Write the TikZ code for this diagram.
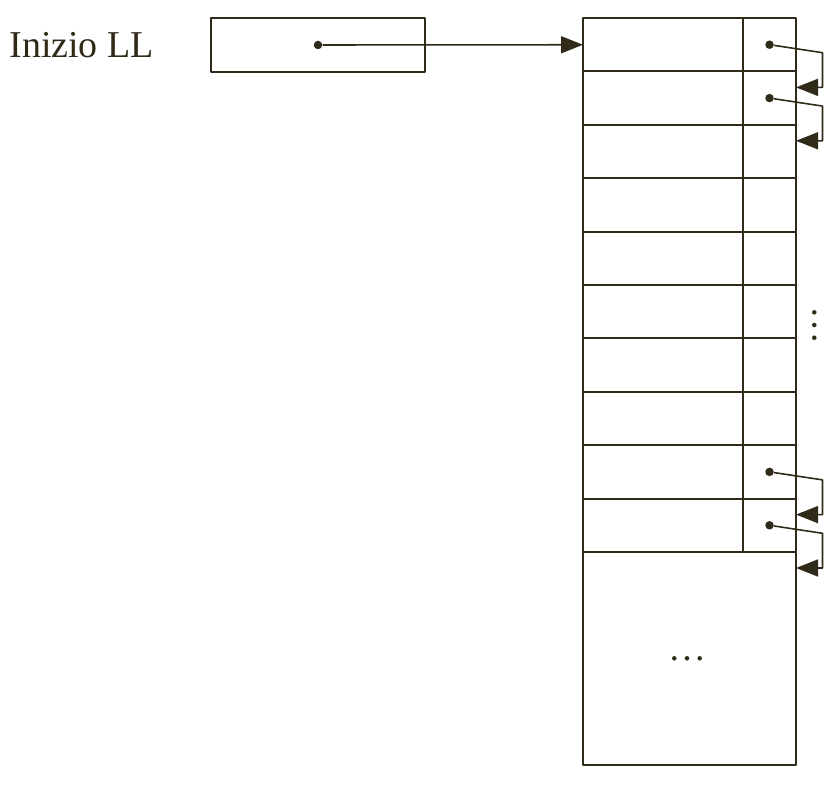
\documentclass[tikz,border=0pt]{standalone}
\usepackage{fontspec}
\setmainfont{Liberation Serif}
\usetikzlibrary{arrows.meta,positioning,calc}
\definecolor{ink}{RGB}{48,42,24}

\begin{document}
\begin{tikzpicture}[x=0.2mm, y=-0.2mm, line join=round,
      every node/.style={font=\fontsize{21.6}{26}\selectfont, text=ink},
      box/.style={draw=ink, line width=1.2pt, inner sep=0pt, outer sep=0pt},
      datacell/.style={box, minimum width=32mm, minimum height=10.68mm},
      ptrcell/.style={box, minimum width=10.6mm, minimum height=10.68mm},
      dot/.style={circle, fill=ink, inner sep=0pt, minimum size=1.7mm},
      link/.style={draw=ink, line width=0.9pt, -{Triangle[length=4.4mm, width=3.4mm]}}]
    \useasboundingbox (0,0) rectangle (840,794);
    % testa della lista
    \node[box, minimum width=42.8mm, minimum height=10.8mm] (head) at (318,45) {};
    \node[left=10.2mm of head] (lab) {Inizio LL};
    \node[dot] (hd) at (head.center) {};
    % celle
    \foreach \i in {1,...,10} {
      \node[datacell] (d\i) at (663, {18+53.4*(\i-0.5)}) {};
      \node[ptrcell, right=0pt of d\i] (p\i) {};
    }
    \node[box, minimum width=42.6mm, minimum height=42.6mm, anchor=north west] (rest) at (d10.south west) {\hspace*{-1mm}\dots};
    \node[rotate=90] (vd) at (815,326) {\dots};
    \draw[link] (hd) -- (d1);
    \foreach \i/\nxt in {1/p2, 2/p3, 9/p10, 10/rest} {
      \node[dot] (pd\i) at (p\i.center) {};
      \coordinate (t\i) at ($(\nxt.north east)+(0,16)$);
      \draw[link] (pd\i) -- ++(53,8) |- (t\i);
    }
  \end{tikzpicture}
\end{document}
